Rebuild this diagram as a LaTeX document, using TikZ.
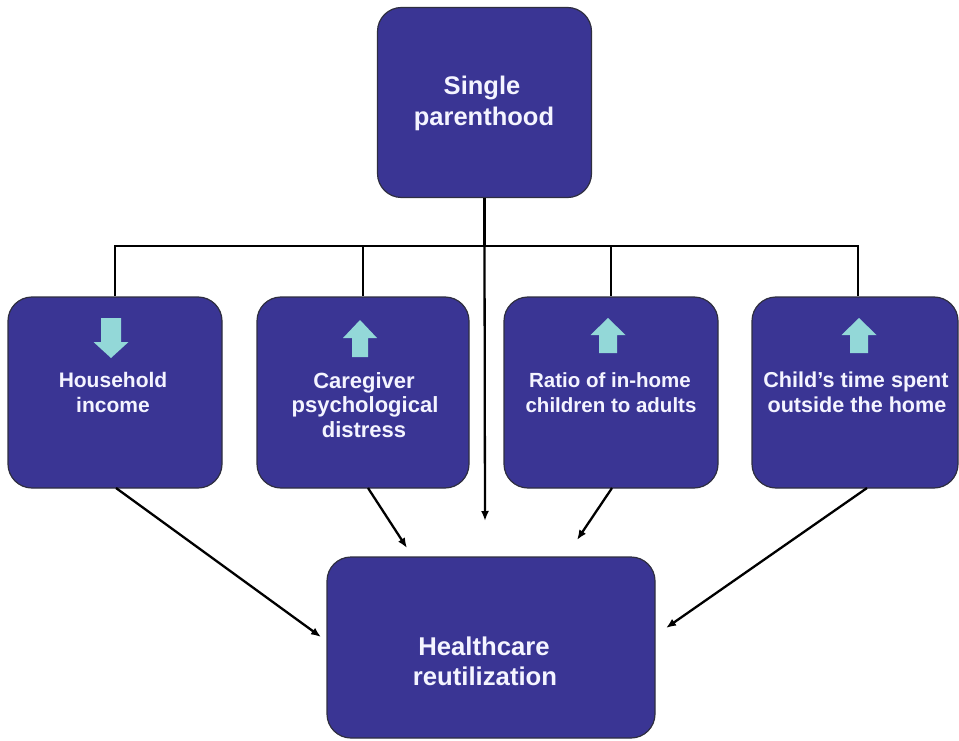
\documentclass[tikz,border=0pt]{standalone}
\usepackage{fontspec}
\setmainfont{Liberation Sans}
\usetikzlibrary{arrows.meta}
\definecolor{boxblue}{HTML}{3A3594}
\definecolor{boxedge}{HTML}{2E2E40}
\definecolor{cyanarrow}{HTML}{93D8D8}
\definecolor{txt}{HTML}{F4F4FF}
\tikzset{
  bigbox/.style={draw=boxedge, line width=1.2pt, fill=boxblue, rounded corners=24pt, inner sep=0pt},
  lbl/.style={anchor=base, inner sep=0pt, text=txt, font=\bfseries},
  conn/.style={draw=black, line width=2.3pt},
  arr/.style={conn, -{Latex[length=10pt,width=8pt]}},
  ind/.style={fill=cyanarrow, draw=none}
}
\begin{document}
\begin{tikzpicture}[x=1pt,y=-1pt]
\useasboundingbox (0,0) rectangle (959,741);
% boxes
\node[bigbox, minimum width=214pt, minimum height=190pt] (top) at (484.5,102.5) {};
\node[bigbox, minimum width=214pt, minimum height=191pt] (b1) at (115,392.5) {};
\node[bigbox, minimum width=212pt, minimum height=191pt] (b2) at (363,392.5) {};
\node[bigbox, minimum width=214pt, minimum height=191pt] (b3) at (611,392.5) {};
\node[bigbox, minimum width=206pt, minimum height=191pt] (b4) at (855,392.5) {};
\node[bigbox, minimum width=328pt, minimum height=181pt] (bot) at (491,647.5) {};
% texts
\node[lbl, font=\bfseries\fontsize{25.5}{31}\selectfont] (t0a) at (482,95) {Single};
\node[lbl, font=\bfseries\fontsize{25.5}{31}\selectfont] (t0b) at (484,126) {parenthood};
\node[lbl, font=\bfseries\fontsize{21}{25}\selectfont] (t1a) at (113,387) {Household};
\node[lbl, font=\bfseries\fontsize{21}{25}\selectfont] (t1b) at (113,412) {income};
\node[lbl, font=\bfseries\fontsize{22}{25}\selectfont] (t2a) at (364,388) {Caregiver};
\node[lbl, font=\bfseries\fontsize{22}{25}\selectfont] (t2b) at (365,412) {psychological};
\node[lbl, font=\bfseries\fontsize{22}{25}\selectfont] (t2c) at (364,437) {distress};
\node[lbl, font=\bfseries\fontsize{20.5}{25}\selectfont] (t3a) at (610,387) {Ratio of in-home};
\node[lbl, font=\bfseries\fontsize{20.5}{25}\selectfont] (t3b) at (611,412) {children to adults};
\node[lbl, font=\bfseries\fontsize{21.6}{25}\selectfont] (t4a) at (856,387) {Child’s time spent};
\node[lbl, font=\bfseries\fontsize{21.6}{25}\selectfont] (t4b) at (857,412) {outside the home};
\node[lbl, font=\bfseries\fontsize{25.7}{30}\selectfont] (t5a) at (484,655) {Healthcare};
\node[lbl, font=\bfseries\fontsize{25.7}{30}\selectfont] (t5b) at (485,685) {reutilization};
% indicator arrows
\fill[ind] (101,318) -- (121,318) -- (121,342) -- (128.5,342) -- (111,358) -- (93.5,342) -- (101,342) -- cycle;
\fill[ind] (352,357) -- (368,357) -- (368,338) -- (377,338) -- (360,320) -- (343,338) -- (352,338) -- cycle;
\fill[ind] (599,353) -- (617,353) -- (617,335) -- (625.5,335) -- (608,318) -- (590.5,335) -- (599,335) -- cycle;
\fill[ind] (850,353) -- (868,353) -- (868,335) -- (876.5,335) -- (859,318) -- (841.5,335) -- (850,335) -- cycle;
% connector bus
\coordinate (bus) at (484.5,246);
\coordinate (h1) at (115,246);
\coordinate (h2) at (363,246);
\coordinate (h3) at (611,246);
\coordinate (h4) at (858,246);
\draw[conn] (top.south) -- (bus);
\draw[conn, line cap=rect] (h1) -- (h4);
\draw[conn] (h1) -- (b1.north);
\draw[conn] (h2) -- (b2.north);
\draw[conn] (h3) -- (b3.north);
\draw[conn] (h4) -- (h4 |- b4.north);
% arrows to bottom box
\coordinate (s1) at (116,488);
\coordinate (e1) at (321,637);
\coordinate (s2) at (368,488);
\coordinate (e2) at (407,548);
\coordinate (e0) at (485,521);
\coordinate (s3) at (612,488);
\coordinate (e3) at (577,540);
\coordinate (s4) at (867,488);
\coordinate (e4) at (666,628);
\draw[arr] (bus) -- (e0);
\draw[arr] (s1) -- (e1);
\draw[arr] (s2) -- (e2);
\draw[arr] (s3) -- (e3);
\draw[arr] (s4) -- (e4);
\end{tikzpicture}
\end{document}
